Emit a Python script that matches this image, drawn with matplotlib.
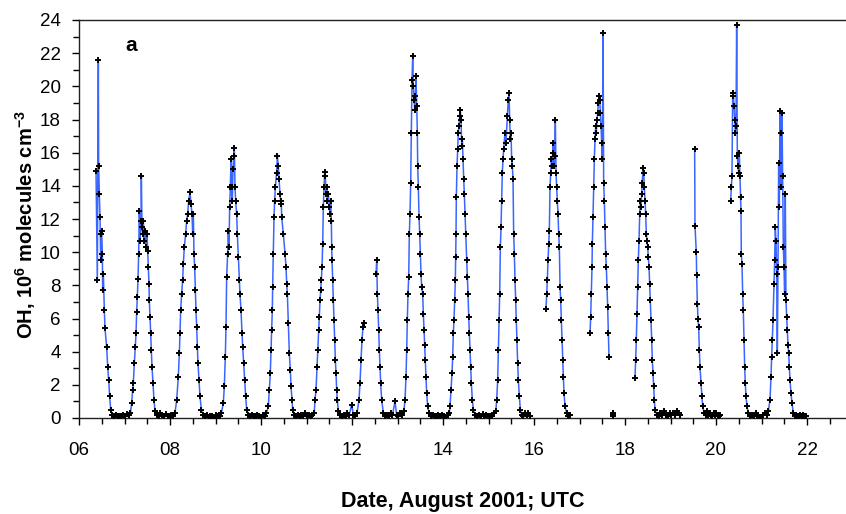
import numpy as np
import matplotlib.pyplot as plt
from matplotlib.ticker import MultipleLocator

plt.rcParams['font.family'] = ['Liberation Sans', 'DejaVu Sans']
plt.rcParams['mathtext.fontset'] = 'custom'
plt.rcParams['mathtext.rm'] = 'Liberation Sans:bold'
plt.rcParams['mathtext.bf'] = 'Liberation Sans:bold'

# OH, 10^6 molecules cm-3; time in days of August 2001 (UTC)
aug06_t = [6.374, 6.403, 6.425, 6.432, 6.447, 6.462, 6.476, 6.484, 6.498, 6.513, 6.520, 6.535,
           6.557, 6.571, 6.608, 6.630, 6.652, 6.674, 6.696, 6.733,
           6.77, 6.81, 6.85, 6.89, 6.93, 6.97, 7.01, 7.05, 7.09, 7.13]
aug06_oh = [14.9, 8.3, 21.6, 15.2, 13.5, 12.1, 9.5, 11.1, 11.3, 9.9, 7.7, 8.7,
            6.5, 5.4, 4.3, 3.1, 2.3, 1.3, 0.5, 0.2,
            0.1, 0.2, 0.1, 0.15, 0.1, 0.2, 0.1, 0.25, 0.2, 0.3]

aug07_t = [7.158, 7.179, 7.194, 7.216, 7.238, 7.253, 7.267, 7.282, 7.297, 7.311, 7.326, 7.341,
           7.363, 7.370, 7.385, 7.399, 7.414, 7.429, 7.451, 7.473, 7.495, 7.509, 7.524, 7.538,
           7.546, 7.560, 7.575, 7.590, 7.604, 7.626, 7.648, 7.670, 7.707,
           7.75, 7.79, 7.83, 7.87, 7.91, 7.95, 7.99, 8.03, 8.07, 8.11]
aug07_oh = [0.9, 1.7, 2.1, 3.3, 4.3, 5.1, 6.4, 7.3, 8.4, 9.9, 12.5, 10.7,
            11.9, 14.6, 11.5, 11.1, 11.9, 10.7, 11.3, 10.3, 11.1, 10.1, 9.1, 8.1,
            7.1, 6.1, 5.1, 4.1, 3.1, 2.1, 1.1, 0.4, 0.2,
            0.1, 0.3, 0.2, 0.1, 0.25, 0.15, 0.1, 0.2, 0.1, 0.3]

aug08_t = [8.147, 8.183, 8.205, 8.220, 8.234, 8.256, 8.278, 8.293, 8.315, 8.344, 8.366, 8.388,
           8.410, 8.440, 8.462, 8.484, 8.498, 8.513, 8.527, 8.542, 8.557, 8.571, 8.586, 8.601,
           8.615, 8.637, 8.659, 8.689, 8.733,
           8.77, 8.81, 8.85, 8.89, 8.93, 8.97, 9.01, 9.05, 9.09, 9.13]
aug08_oh = [1.1, 2.5, 3.9, 5.1, 6.5, 7.5, 8.3, 9.3, 10.3, 11.1, 11.9, 12.3,
            13.1, 13.6, 12.9, 12.3, 11.1, 12.3, 9.9, 9.1, 7.7, 6.5, 5.5, 4.3,
            3.3, 2.3, 1.3, 0.5, 0.2,
            0.1, 0.2, 0.05, 0.15, 0.1, 0.0, 0.2, 0.1, 0.15, 0.3]

aug09_t = [9.172, 9.194, 9.216, 9.231, 9.245, 9.267, 9.282, 9.297, 9.311, 9.326, 9.341, 9.355,
           9.370, 9.385, 9.399, 9.414, 9.429, 9.443, 9.465, 9.480, 9.502, 9.524, 9.538, 9.560,
           9.582, 9.597, 9.619, 9.641, 9.663, 9.685, 9.722,
           9.76, 9.80, 9.84, 9.88, 9.92, 9.96, 10.00, 10.04, 10.08, 10.12]
aug09_oh = [0.9, 1.9, 3.7, 5.5, 8.5, 9.9, 11.3, 10.3, 12.7, 13.9, 15.6, 13.9,
            13.1, 15.0, 15.8, 16.3, 13.9, 13.1, 12.3, 11.1, 9.7, 8.3, 7.5, 6.5,
            5.1, 4.3, 3.3, 2.3, 1.3, 0.5, 0.2,
            0.1, 0.2, 0.1, 0.15, 0.2, 0.1, 0.05, 0.2, 0.1, 0.3]

aug10_t = [10.161, 10.183, 10.205, 10.220, 10.234, 10.249, 10.256, 10.271, 10.286, 10.300, 10.315,
           10.344, 10.359, 10.381, 10.396, 10.418, 10.432, 10.447, 10.455, 10.491, 10.528, 10.550,
           10.565, 10.579, 10.601, 10.623, 10.645, 10.660, 10.682, 10.696, 10.726,
           10.77, 10.81, 10.85, 10.89, 10.93, 10.97, 11.01, 11.05, 11.09, 11.13, 11.17]
aug10_oh = [0.7, 1.7, 2.7, 4.1, 5.3, 6.5, 7.9, 9.9, 12.1, 13.1, 13.9,
            14.8, 15.8, 15.2, 14.4, 13.5, 13.1, 12.9, 12.1, 11.1, 9.9, 9.1,
            8.1, 7.5, 5.7, 3.9, 2.9, 1.9, 1.1, 0.5, 0.2,
            0.1, 0.2, 0.1, 0.2, 0.15, 0.3, 0.1, 0.2, 0.1, 0.2, 0.3]

aug11_t = [11.187, 11.209, 11.231, 11.246, 11.268, 11.282, 11.297, 11.312, 11.326, 11.341, 11.356,
           11.370, 11.385, 11.400, 11.414, 11.429, 11.444, 11.458, 11.480, 11.502, 11.517, 11.532,
           11.546, 11.554, 11.561, 11.576, 11.590, 11.605, 11.620, 11.634, 11.649, 11.663, 11.678,
           11.700, 11.737,
           11.78, 11.82, 11.86, 11.90, 11.94, 11.993, 12.03, 12.07, 12.11]
aug11_oh = [1.1, 1.7, 3.1, 4.1, 5.3, 6.1, 7.1, 7.7, 8.3, 9.1, 10.5,
            12.7, 13.9, 14.85, 14.6, 13.5, 13.9, 13.1, 13.5, 12.7, 12.3, 13.1,
            11.9, 10.3, 9.5, 8.3, 7.1, 5.9, 4.7, 3.5, 2.7, 1.7, 1.1,
            0.4, 0.2,
            0.1, 0.2, 0.1, 0.3, 0.2, 0.8, 0.2, 0.1, 0.3]

aug12am_t = [12.154, 12.176, 12.198, 12.220, 12.242, 12.264]
aug12am_oh = [1.1, 2.1, 3.5, 4.7, 5.5, 5.7]

aug12pm_t = [12.528, 12.543, 12.557, 12.572, 12.586, 12.601, 12.616, 12.630, 12.652, 12.689,
             12.73, 12.77, 12.81, 12.85, 12.89, 12.945, 12.98, 13.02, 13.06, 13.10, 13.14]
aug12pm_oh = [8.7, 9.5, 7.5, 6.5, 5.3, 4.1, 3.1, 2.1, 1.1, 0.3,
              0.1, 0.2, 0.1, 0.3, 0.2, 1.0, 0.2, 0.1, 0.3, 0.2, 0.4]

aug13_t = [13.165, 13.187, 13.202, 13.216, 13.231, 13.246, 13.260, 13.275, 13.290, 13.304, 13.319,
           13.334, 13.348, 13.363, 13.378, 13.392, 13.407, 13.422, 13.436, 13.444, 13.458, 13.473,
           13.488, 13.502, 13.517, 13.531, 13.553, 13.568, 13.583, 13.597, 13.612, 13.627, 13.641,
           13.663, 13.693,
           13.74, 13.78, 13.82, 13.86, 13.90, 13.94, 13.98, 14.02, 14.06, 14.10, 14.14]
aug13_oh = [1.1, 2.5, 4.1, 5.9, 7.5, 8.5, 11.1, 12.3, 14.2, 17.2, 20.4,
            21.8, 20.0, 19.2, 18.6, 19.4, 20.6, 18.8, 17.2, 15.2, 13.9, 12.1,
            11.1, 9.9, 8.7, 7.9, 7.5, 6.3, 5.3, 4.4, 3.5, 2.5, 1.5,
            0.7, 0.3,
            0.1, 0.2, 0.1, 0.15, 0.2, 0.1, 0.2, 0.1, 0.05, 0.2, 0.3]

aug14_t = [14.154, 14.176, 14.198, 14.213, 14.227, 14.242, 14.257, 14.271, 14.279, 14.286, 14.293,
           14.308, 14.323, 14.337, 14.352, 14.367, 14.381, 14.396, 14.411, 14.425, 14.440, 14.455,
           14.469, 14.484, 14.499, 14.521, 14.535, 14.550, 14.565, 14.579, 14.594, 14.608, 14.623,
           14.645, 14.667, 14.704,
           14.75, 14.79, 14.83, 14.87, 14.91, 14.95, 14.99, 15.03, 15.07, 15.11, 15.16]
aug14_oh = [0.7, 1.7, 2.7, 3.7, 5.1, 5.9, 7.1, 8.3, 9.7, 11.1, 13.3,
            15.2, 16.2, 17.2, 17.6, 18.2, 18.6, 18.0, 16.4, 16.8, 15.6, 14.4,
            13.5, 12.3, 11.1, 9.5, 8.5, 7.5, 6.1, 5.1, 4.1, 3.1, 2.1,
            1.1, 0.5, 0.2,
            0.1, 0.2, 0.1, 0.25, 0.1, 0.2, 0.1, 0.15, 0.1, 0.3, 0.4]

aug15_t = [15.180, 15.202, 15.217, 15.231, 15.246, 15.261, 15.275, 15.290, 15.304, 15.319, 15.333,
           15.363, 15.385, 15.414, 15.436, 15.451, 15.465, 15.480, 15.495, 15.509, 15.524, 15.539,
           15.553, 15.568, 15.583, 15.597, 15.612, 15.627, 15.641, 15.656, 15.678, 15.700, 15.729,
           15.766, 15.802, 15.839, 15.876, 15.912]
aug15_oh = [1.1, 2.3, 4.1, 5.9, 7.5, 10.3, 11.5, 13.1, 14.8, 15.6, 16.2,
            17.2, 16.6, 18.2, 19.2, 19.6, 18.0, 16.8, 17.2, 15.6, 15.2, 14.4,
            11.1, 9.9, 8.3, 7.1, 5.9, 4.7, 3.3, 2.3, 1.3, 0.5, 0.2,
            0.1, 0.3, 0.2, 0.3, 0.1]

aug16_t = [16.264, 16.279, 16.293, 16.308, 16.323, 16.337, 16.352, 16.367, 16.381, 16.396, 16.411,
           16.425, 16.440, 16.455, 16.469, 16.484, 16.498, 16.513, 16.528, 16.542, 16.557, 16.572,
           16.586, 16.601, 16.616, 16.630, 16.645, 16.660, 16.682, 16.718, 16.755, 16.791]
aug16_oh = [6.6, 7.5, 8.3, 9.5, 10.5, 11.3, 13.9, 14.8, 15.6, 15.2, 16.0,
            16.6, 15.2, 15.8, 18.0, 14.8, 13.9, 13.1, 12.3, 11.1, 10.3, 7.9,
            7.1, 5.9, 4.7, 3.5, 2.5, 1.5, 0.7, 0.3, 0.1, 0.2]

aug17_t = [17.231, 17.246, 17.260, 17.275, 17.282, 17.297, 17.312, 17.326, 17.341, 17.356, 17.370,
           17.385, 17.400, 17.414, 17.429, 17.444, 17.458, 17.473, 17.487, 17.502, 17.517, 17.531,
           17.546, 17.561, 17.575, 17.590, 17.605, 17.619, 17.634, 17.648]
aug17_oh = [5.1, 6.1, 7.5, 9.1, 10.5, 12.1, 13.9, 15.6, 16.8, 17.6, 17.2,
            18.0, 18.4, 19.0, 19.4, 19.2, 18.4, 17.6, 16.6, 15.6, 23.2, 14.2,
            13.1, 11.5, 9.9, 9.1, 7.9, 6.7, 5.1, 3.7]

aug17night_t = [17.738, 17.742, 17.746]
aug17night_oh = [0.2, 0.3, 0.15]

aug18_t = [18.220, 18.235, 18.249, 18.264, 18.279, 18.293, 18.308, 18.323, 18.337, 18.352, 18.367,
           18.381, 18.396, 18.411, 18.425, 18.440, 18.455, 18.469, 18.484, 18.498, 18.513, 18.528,
           18.542, 18.557, 18.572, 18.586, 18.601, 18.616, 18.630, 18.645, 18.660, 18.696,
           18.74, 18.78, 18.82, 18.86, 18.90, 18.94, 18.98, 19.02, 19.06, 19.10, 19.14, 19.18, 19.21]
aug18_oh = [2.4, 3.5, 4.7, 6.3, 7.9, 9.5, 10.7, 12.3, 13.1, 12.7, 13.5,
            14.2, 15.1, 14.8, 13.9, 13.1, 12.3, 11.1, 10.7, 10.3, 9.7, 9.1,
            8.1, 7.1, 5.9, 4.7, 3.5, 2.7, 1.9, 1.1, 0.5, 0.2,
            0.1, 0.3, 0.2, 0.4, 0.2, 0.1, 0.3, 0.2, 0.3, 0.2, 0.4, 0.3, 0.2]

aug19_t = [19.531, 19.538, 19.567, 19.575, 19.590, 19.604, 19.619, 19.634, 19.648, 19.670, 19.692,
           19.707, 19.74, 19.77, 19.80, 19.83, 19.86, 19.89, 19.92, 19.95, 19.98, 20.01, 20.04,
           20.07, 20.09]
aug19_oh = [16.2, 11.6, 10.0, 8.6, 6.9, 6.0, 5.5, 4.1, 3.1, 2.1, 1.3,
            0.7, 0.3, 0.2, 0.4, 0.2, 0.3, 0.2, 0.1, 0.3, 0.2, 0.3, 0.2,
            0.1, 0.2]

aug20_t = [20.322, 20.337, 20.351, 20.366, 20.381, 20.395, 20.410, 20.425, 20.439, 20.454, 20.469,
           20.483, 20.498, 20.512, 20.527, 20.542, 20.549, 20.556, 20.571, 20.586, 20.600, 20.615,
           20.630, 20.644, 20.659, 20.681, 20.710,
           20.75, 20.79, 20.83, 20.87, 20.91, 20.95, 20.99, 21.03, 21.07, 21.11, 21.15]
aug20_oh = [13.1, 13.9, 14.6, 19.4, 19.6, 18.8, 18.0, 17.2, 17.6, 23.7, 15.8,
            15.2, 14.8, 16.0, 14.6, 13.3, 12.5, 9.9, 9.3, 7.5, 6.5, 4.7,
            3.1, 2.1, 1.3, 0.7, 0.3,
            0.1, 0.2, 0.1, 0.3, 0.1, 0.05, -0.1, 0.2, 0.3, 0.2, 0.4]

aug21_t = [21.187, 21.209, 21.223, 21.238, 21.253, 21.274, 21.289, 21.304, 21.318, 21.333, 21.348,
           21.363, 21.377, 21.392, 21.406, 21.421, 21.436, 21.450, 21.465, 21.480, 21.494, 21.509,
           21.523, 21.538, 21.553, 21.568, 21.582, 21.597, 21.612, 21.626, 21.648, 21.670, 21.700,
           21.73, 21.76, 21.79, 21.82, 21.85, 21.88, 21.91, 21.94, 21.97]
aug21_oh = [1.1, 2.5, 3.7, 4.7, 5.9, 8.1, 9.5, 11.5, 10.7, 8.7, 3.9,
            9.1, 15.4, 12.7, 18.5, 17.2, 13.9, 18.4, 14.6, 10.3, 9.1, 7.5,
            13.5, 7.1, 6.1, 5.3, 4.4, 3.9, 3.1, 2.3, 1.5, 0.9, 0.3,
            0.1, 0.2, 0.1, 0.15, 0.2, 0.1, 0.2, 0.1, 0.1]

# unbroken measurement runs; the record is interrupted between them
runs = [
    [(aug06_t, aug06_oh), (aug07_t, aug07_oh), (aug08_t, aug08_oh), (aug09_t, aug09_oh),
     (aug10_t, aug10_oh), (aug11_t, aug11_oh), (aug12am_t, aug12am_oh)],
    [(aug12pm_t, aug12pm_oh), (aug13_t, aug13_oh), (aug14_t, aug14_oh), (aug15_t, aug15_oh)],
    [(aug16_t, aug16_oh)],
    [(aug17_t, aug17_oh)],
    [(aug17night_t, aug17night_oh)],
    [(aug18_t, aug18_oh)],
    [(aug19_t, aug19_oh)],
    [(aug20_t, aug20_oh), (aug21_t, aug21_oh)],
]

t_all, oh_all = [], []
for run in runs:
    for tt, vv in run:
        t_all += tt
        oh_all += vv
    t_all.append(np.nan)
    oh_all.append(np.nan)

fig = plt.figure(figsize=(8.46, 5.14), dpi=100)
ax = fig.add_axes([79 / 846, 96 / 514, 1 - 79 / 846, 398 / 514])

ax.plot(t_all, oh_all, color='#3a66ff', lw=1.1, marker='+', ms=5,
        mec='black', mew=1.4, zorder=3)

ax.set_xlim(6, 6 + 767 / 45.5)
ax.set_ylim(0, 24)
xt = np.arange(6, 23, 2)
ax.set_xticks(xt)
ax.set_xticklabels(['%02d' % v for v in xt])
ax.xaxis.set_minor_locator(MultipleLocator(0.5))
ax.yaxis.set_major_locator(MultipleLocator(2))
ax.yaxis.set_minor_locator(MultipleLocator(1))

ax.tick_params(which='both', direction='out', width=1, colors='black', labelsize=13.5)
ax.tick_params(which='major', length=5)
ax.tick_params(which='minor', length=4)
ax.tick_params(axis='x', pad=12)
ax.tick_params(axis='y', pad=8)

ax.spines['right'].set_visible(False)
for s in ['left', 'bottom', 'top']:
    ax.spines[s].set_linewidth(1.0)
    ax.spines[s].set_color('#222222')

ax.set_xlabel('Date, August 2001; UTC', fontsize=15.5, fontweight='bold', va='center')
ax.xaxis.set_label_coords(0.5, (418 - 501) / 398)
ax.set_ylabel('OH, 10$^{6}$ molecules cm$^{-3}$', fontsize=14.5,
              fontweight='bold', va='center')
ax.yaxis.set_label_coords((26 - 79) / 767, 0.485)
ax.text(7.14, 22.45, 'a', fontsize=15, fontweight='bold', ha='center', va='center')

fig.savefig('out.png', dpi=100)
